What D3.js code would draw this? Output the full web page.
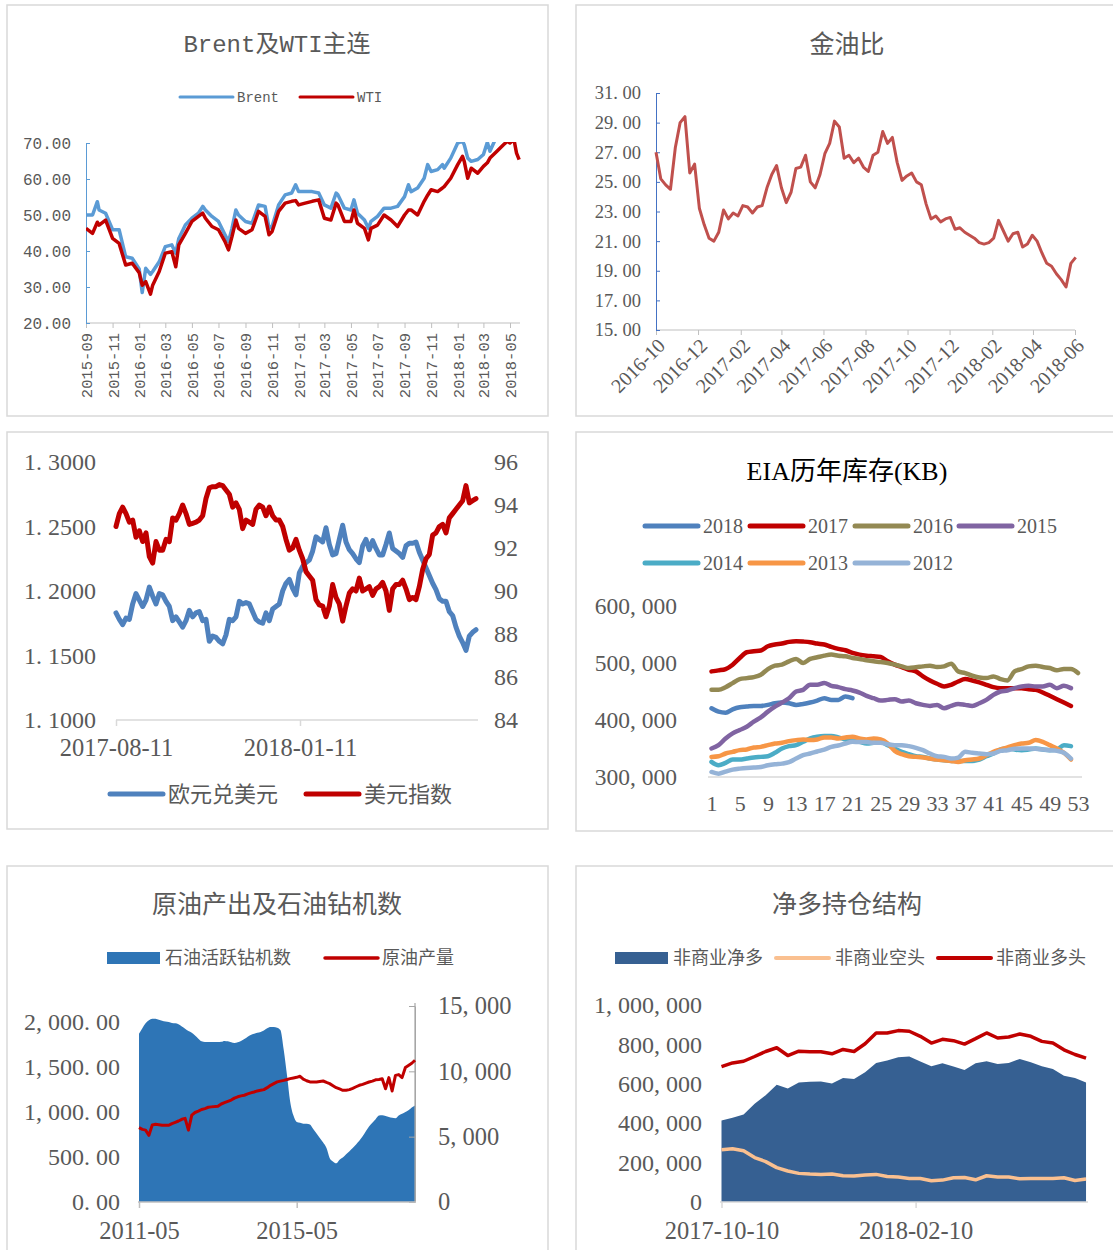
<!DOCTYPE html>
<html><head><meta charset="utf-8">
<script src="https://cdn.jsdelivr.net/npm/d3@7/dist/d3.min.js"></script>
<style>html,body{margin:0;padding:0;background:#fff}svg{display:block}</style>
</head><body>
<svg id="chart" width="1113" height="1250"></svg>
<script>
// ---------------- DATA ----------------
// Panel 1: Brent & WTI
const oilDates = ["2015-09-01","2015-09-16","2015-09-27","2015-10-01","2015-10-16","2015-11-01","2015-11-16","2015-12-01","2015-12-16","2016-01-01",
"2016-01-08","2016-01-16","2016-01-27","2016-02-01","2016-02-16","2016-03-01","2016-03-16","2016-03-25","2016-04-01","2016-04-16",
"2016-05-01","2016-05-16","2016-05-26","2016-06-01","2016-06-16","2016-07-01","2016-07-16","2016-07-24","2016-08-01","2016-08-10",
"2016-08-16","2016-09-01","2016-09-16","2016-10-01","2016-10-16","2016-10-25","2016-11-01","2016-11-16","2016-12-01","2016-12-16",
"2016-12-25","2017-01-01","2017-01-16","2017-02-01","2017-02-16","2017-03-01","2017-03-16","2017-03-28","2017-04-01","2017-04-16",
"2017-05-01","2017-05-08","2017-05-16","2017-06-01","2017-06-10","2017-06-16","2017-07-01","2017-07-16","2017-08-01","2017-08-16",
"2017-09-01","2017-09-10","2017-09-16","2017-10-01","2017-10-16","2017-10-24","2017-11-01","2017-11-16","2017-11-27","2017-12-01",
"2017-12-16","2018-01-01","2018-01-12","2018-01-16","2018-01-24","2018-02-01","2018-02-16","2018-03-01","2018-03-10","2018-03-16",
"2018-04-01","2018-04-16","2018-04-25","2018-05-01","2018-05-10","2018-05-16","2018-05-22"];
const brent = [50.0,50.0,53.7,51.4,50.5,45.9,45.9,38.4,38.0,35.0,
28.5,35.2,33.5,34.3,37.0,41.2,41.7,39.4,43.5,47.2,
49.1,50.5,52.4,51.4,49.6,48.2,44.5,42.6,46.3,51.4,
50.0,48.2,47.7,52.8,52.4,46.3,46.8,52.8,55.6,56.1,
58.4,56.5,56.5,56.5,56.1,52.8,51.9,56.1,55.6,51.9,
51.4,54.2,50.5,48.6,46.3,48.2,49.6,51.9,51.9,52.4,
55.1,58.4,56.5,57.5,60.2,64.0,62.1,62.6,64.0,63.0,
65.8,70.0,70.5,69.5,65.8,64.9,65.4,66.8,70.2,67.7,
72.0,73.0,74.5,75.0,77.0,78.0,76.0];
const wti = [46.3,44.9,48.0,47.2,48.6,43.5,42.1,36.1,36.6,34.0,
30.5,31.5,28.0,30.5,34.3,39.4,39.8,35.6,41.7,44.9,
48.2,49.6,50.5,49.1,46.8,45.9,42.6,40.3,44.0,48.6,
46.3,44.9,45.9,51.0,49.6,44.5,45.4,51.0,53.3,53.8,
54.0,52.8,53.3,53.8,54.2,49.1,48.6,53.3,52.8,48.2,
48.2,51.4,47.7,46.3,43.1,46.3,47.2,50.0,48.6,46.8,
50.0,51.4,51.4,50.0,53.8,55.5,57.0,56.5,57.5,57.9,
60.2,64.0,66.3,64.9,60.2,63.0,61.6,63.5,64.5,65.8,
67.7,69.5,70.5,70.0,71.0,67.2,65.4];
const oilXTicks = ["2015-09","2015-11","2016-01","2016-03","2016-05","2016-07","2016-09","2016-11","2017-01","2017-03","2017-05","2017-07","2017-09","2017-11","2018-01","2018-03","2018-05"];
const oilYTicks = [20,30,40,50,60,70];

// Panel 2: gold/oil ratio (weekly)
const goldOilStart = "2016-10-01";
const goldOilStepDays = 7;
const goldOil = [27.0,25.2,24.8,24.5,27.3,29.0,29.4,25.6,26.2,23.2,
22.1,21.2,21.0,21.6,23.1,22.5,22.9,22.7,23.4,23.3,
22.9,23.3,23.4,24.6,25.5,26.1,24.6,23.6,24.3,25.9,
26.0,26.8,25.0,24.6,25.5,26.9,27.6,29.1,28.7,26.6,
26.8,26.3,26.6,26.0,25.7,26.8,27.0,28.4,27.6,28.0,
26.3,25.1,25.4,25.6,25.0,24.8,23.5,22.5,22.7,22.3,
22.5,22.6,21.8,21.9,21.6,21.4,21.2,20.9,20.8,20.9,
21.2,22.4,21.7,21.0,21.5,21.6,20.6,20.8,21.4,21.0,
20.2,19.5,19.3,18.8,18.4,17.9,19.5,19.9];
const goldOilXTicks = ["2016-10","2016-12","2017-02","2017-04","2017-06","2017-08","2017-10","2017-12","2018-02","2018-04","2018-06"];
const goldOilYTicks = [15,17,19,21,23,25,27,29,31];

// Panel 3: EUR/USD & USD index
const fxStart = "2017-08-11";
const fxStepDays = 2.7716;
const eurusd = [1.183,1.178,1.174,1.179,1.178,1.190,1.198,1.193,1.188,1.193,
1.203,1.196,1.190,1.198,1.197,1.192,1.188,1.177,1.180,1.176,
1.172,1.177,1.185,1.180,1.183,1.184,1.177,1.178,1.161,1.165,
1.164,1.161,1.159,1.166,1.178,1.177,1.180,1.192,1.190,1.191,
1.190,1.184,1.178,1.176,1.175,1.183,1.177,1.186,1.188,1.190,
1.200,1.206,1.209,1.202,1.197,1.214,1.219,1.222,1.224,1.231,
1.242,1.240,1.238,1.249,1.236,1.228,1.229,1.240,1.251,1.238,
1.232,1.229,1.225,1.222,1.235,1.240,1.232,1.239,1.233,1.228,
1.228,1.236,1.245,1.233,1.231,1.229,1.226,1.235,1.237,1.237,
1.238,1.230,1.224,1.218,1.212,1.206,1.201,1.194,1.192,1.192,
1.184,1.181,1.172,1.165,1.160,1.154,1.165,1.168,1.170];
const dxy = [93.0,93.6,93.9,93.6,93.2,93.3,92.5,92.8,92.3,92.7,
91.6,91.3,92.3,91.9,91.9,92.4,92.3,93.4,93.3,93.6,
94.0,93.6,93.1,93.15,93.2,93.3,93.5,94.3,94.8,94.85,
94.85,94.95,94.9,94.7,94.5,93.9,94.1,93.8,92.9,93.3,
93.2,93.1,93.8,94.0,93.9,93.5,93.9,93.5,93.3,93.3,
93.0,92.4,91.9,92.0,92.4,91.9,91.5,90.9,90.7,90.5,
89.6,89.35,89.3,88.8,89.3,90.3,89.7,89.4,88.6,89.3,
89.9,90.1,90.0,90.6,90.0,90.1,90.2,89.8,90.1,90.2,
90.4,90.0,89.1,90.1,90.3,90.3,90.5,90.1,89.6,89.7,
89.6,90.2,91.0,91.5,91.7,92.6,92.7,93.0,93.1,92.7,
93.4,93.6,93.8,94.0,94.2,94.9,94.1,94.2,94.3];
const fxXTicks = ["2017-08-11","2018-01-11"];
const fxLeftTicks = [1.10,1.15,1.20,1.25,1.30];
const fxRightTicks = [84,86,88,90,92,94,96];

// Panel 4: EIA inventories by week (KB)
const eiaNames = ["2018","2017","2016","2015","2014","2013","2012"];
const eia2018 = [420600,414700,412900,418800,422400,423500,424700,424700,426500,429400,430600,429400,426500,428200,430600,434100,438200,435300,435300,441200,438200];
const eia2017 = [485300,487100,489400,497100,508800,518800,520600,521800,529400,532400,534100,537100,538200,537600,536500,534100,532400,528200,524700,522400,517600,514700,512900,511800,510600,502900,497100,492900,488200,485300,476500,469400,463500,458800,461800,467600,471800,469400,465900,461800,457600,455900,455900,455900,455900,454100,452900,448200,442400,436500,430600,424700];
const eia2016 = [452900,452900,457600,464700,471800,473500,475300,479400,489400,495300,497100,502900,507100,500000,507100,510000,512900,514700,512900,511800,508800,507100,504700,502900,501800,500000,497100,494100,491200,492400,494100,495300,492900,494100,498800,485300,482400,477600,474700,473500,476500,471800,469400,485300,489400,494100,495300,492900,491200,487100,489400,489400,482400];
const eia2015 = [350000,355900,367600,376500,382400,388200,397100,404700,414700,423500,430600,438200,450000,452900,461800,461800,464700,460000,457600,454100,451800,448200,442400,438200,434100,435300,436500,432400,434100,429400,426500,424700,426500,420600,424700,428200,426500,424700,429400,435300,444100,450000,451800,455900,458800,460000,458800,458800,461800,455900,460000,455900];
const eia2014 = [326500,320600,324700,330600,330600,332400,334100,335300,336500,342400,350000,354100,355900,361800,367600,370600,371800,371800,369400,365900,363500,361800,358800,360000,361800,355900,350000,344100,340000,336500,335300,332400,330600,329400,328200,328200,328200,328200,330600,336500,341200,348200,350000,348200,347100,348200,350000,348200,347100,348200,355900,354100];
const eia2013 = [335300,336500,341200,344100,347100,348200,351800,352900,355900,358800,360000,362900,364700,365900,364700,365900,369400,369400,367600,369400,370600,367600,365900,367600,365900,358800,345900,340000,336500,335300,334100,332400,330600,329400,328200,326500,329400,330600,332400,338200,344100,348200,351800,355900,358800,360000,364700,361800,355900,350000,342400,330600];
const eia2012 = [308800,305900,309400,312900,314700,315900,316500,317600,320600,322400,323500,325900,332400,338200,341200,344700,348200,352900,355300,358800,361800,361200,361200,360000,360000,357600,355900,355900,354100,351200,347100,341200,336500,335300,332400,334100,344100,342400,341200,340000,341200,345900,347100,349400,350000,350000,349400,348200,347100,345900,342400,332400];
const eiaWeekTicks = [1,5,9,13,17,21,25,29,33,37,41,45,49,53];
const eiaYTicks = [300000,400000,500000,600000];

// Panel 5: rig count (monthly) & crude production
const rigStart = "2011-05-01";
const rigCount = [1870,1930,1985,2020,2037,2035,2025,2015,2005,2000,
1990,1985,1975,1950,1926,1900,1880,1850,1815,1785,
1778,1778,1778,1778,1778,1780,1790,1785,1775,1768,
1775,1790,1810,1835,1855,1870,1880,1890,1905,1930,
1944,1944,1937,1910,1690,1400,1120,960,890,880,
870,870,860,810,760,710,660,600,490,450,
430,470,495,530,565,600,640,680,730,790,
840,880,920,960,963,955,944,935,930,960,
980,1000,1019,1050,1072];
const crudeOutput = [5689,5560,5500,5100,5900,5944,5920,5880,5870,5870,
6000,6100,6200,6330,6400,5500,6650,6850,6950,7080,
7150,7250,7280,7300,7330,7500,7600,7700,7800,7950,
8050,8120,8170,8270,8350,8420,8500,8550,8600,8750,
8930,9060,9190,9250,9310,9380,9440,9490,9540,9620,
9400,9280,9190,9184,9184,9220,9260,9150,9060,8900,
8750,8650,8550,8560,8600,8700,8820,8930,9000,9100,
9184,9250,9350,9380,9430,8670,9520,8500,9690,9750,
9520,10300,10450,10620,10850];
const rigXTicks = ["2011-05","2015-05"];
const rigLeftTicks = [0,500,1000,1500,2000];
const outputRightTicks = [0,5000,10000,15000];

// Panel 6: CFTC positions (weekly)
const cotStart = "2017-10-10";
const cotStepDays = 7;
const netLong = [413700,427400,444400,499100,541900,594900,576100,606800,610300,612000,601700,629100,624000,658100,706000,717900,735000,738500,712800,688900,704300,687200,670100,704300,714500,700900,706000,726500,709400,688900,675200,641000,629100,606800];
const shortPos = [265000,270000,260000,225600,205100,174400,157300,145300,141900,140200,141900,133300,131600,136800,140200,129900,126500,119700,119700,107700,111100,123100,124800,112800,133300,126500,126500,117900,119700,119700,119700,123100,109400,116200];
const longPos = [687200,706000,714500,738500,764100,782900,743600,765800,762400,762400,752100,774400,764100,803400,858100,858100,870100,866700,841000,806800,825600,818800,801700,829100,858100,832500,837600,853000,841000,815400,806800,772600,748700,729900];
const cotXTicks = ["2017-10-10","2018-02-10"];
const cotYTicks = [0,200000,400000,600000,800000,1000000];

// ---------------- DRAWING ----------------
const svg = d3.select("#chart");
const parseDay = d3.timeParse("%Y-%m-%d");
const parseMonth = d3.timeParse("%Y-%m");
const GREY = "#595959";
const MONO = "'Liberation Mono','Noto Sans CJK SC',monospace";
const SERIF = "'Liberation Serif','Noto Sans CJK SC',serif";
const CJK = "'Noto Sans CJK SC','Liberation Serif',sans-serif";

function addText(parent, x, y, s, o) {
  o = o || {};
  return parent.append("text").attr("x", x).attr("y", y).attr("dy", "0.35em")
    .attr("text-anchor", o.anchor || "start")
    .attr("font-family", o.family || CJK)
    .attr("font-size", o.size || 16)
    .attr("fill", o.fill || GREY)
    .text(s);
}
// widen '.' and ',' to mimic half-width CJK punctuation
function widen(sel) {
  sel.each(function() {
    const t = d3.select(this), s = t.text();
    t.text(null);
    s.split(/([.,])/).filter(p => p !== "").forEach(p => {
      const ts = t.append("tspan").text(p);
      if (p === "." || p === ",") ts.style("letter-spacing", "0.25em");
    });
  });
}
function hline(parent, x1, x2, y, color, w) {
  parent.append("line").attr("x1", x1).attr("x2", x2).attr("y1", y).attr("y2", y)
    .attr("stroke", color).attr("stroke-width", w || 1);
}
function legLine(parent, x, y, color, w) {
  parent.append("line").attr("x1", x).attr("x2", x + 53).attr("y1", y).attr("y2", y)
    .attr("stroke", color).attr("stroke-width", w).attr("stroke-linecap", "round");
}

// frames
const defs = svg.append("defs");
[[7,5,541,411],[576,5,545,411],[7,432,541,397],[576,432,545,399],[7,866,541,400],[576,866,545,400]].forEach(f => {
  svg.append("rect").attr("x", f[0]).attr("y", f[1]).attr("width", f[2]).attr("height", f[3])
    .attr("fill", "#fff").attr("stroke", "#d9d9d9").attr("stroke-width", 1.5);
});

// ===== Panel 1 =====
(function() {
  const g = svg.append("g");
  const x = d3.scaleTime().domain([parseMonth("2015-09"), parseMonth("2018-05")]).range([86, 510]);
  const y = d3.scaleLinear().domain([20, 70]).range([323, 143]);
  addText(g, 277, 44, "Brent及WTI主连", {anchor: "middle", family: MONO, size: 24});
  legLine(g, 180, 97, "#5b9bd5", 3);
  addText(g, 237, 97, "Brent", {family: MONO, size: 14});
  legLine(g, 300, 97, "#c00000", 3);
  addText(g, 357, 97, "WTI", {family: MONO, size: 14});

  const xa = g.append("g").attr("transform", "translate(0,323)")
    .call(d3.axisBottom(x).tickValues(oilXTicks.map(parseMonth)).tickFormat(d3.timeFormat("%Y-%m")).tickSize(5).tickSizeOuter(0));
  xa.select(".domain").remove();
  xa.attr("font-family", MONO).attr("font-size", 15.5);
  xa.selectAll("line").attr("stroke", "#bfbfbf");
  xa.selectAll("text").attr("fill", GREY).attr("transform", "rotate(-90)").attr("x", -10).attr("y", 0).attr("dy", "0.35em").attr("text-anchor", "end");
  hline(g, 86, 520, 323, "#bfbfbf", 1);

  const ya = g.append("g").attr("transform", "translate(86,0)")
    .call(d3.axisLeft(y).tickValues(oilYTicks).tickFormat(d3.format(".2f")).tickSizeInner(-4).tickSizeOuter(0).tickPadding(15));
  ya.attr("font-family", MONO).attr("font-size", 16).attr("color", "#5b9bd5");
  ya.selectAll("text").attr("fill", GREY);

  defs.append("clipPath").attr("id", "clip1").append("rect").attr("x", 86).attr("y", 142).attr("width", 440).attr("height", 185);
  const dates = oilDates.map(parseDay);
  const line = d3.line().x((d, i) => x(dates[i])).y(d => y(d)).curve(d3.curveLinear);
  const lg = g.append("g").attr("clip-path", "url(#clip1)");
  lg.append("path").datum(brent).attr("d", line).attr("fill", "none").attr("stroke", "#5b9bd5").attr("stroke-width", 3.5).attr("stroke-linejoin", "round");
  lg.append("path").datum(wti).attr("d", line).attr("fill", "none").attr("stroke", "#c00000").attr("stroke-width", 3.5).attr("stroke-linejoin", "round");
})();

// ===== Panel 2 =====
(function() {
  const g = svg.append("g");
  const x = d3.scaleTime().domain([parseMonth("2016-10"), parseMonth("2018-06")]).range([656, 1075]);
  const y = d3.scaleLinear().domain([15, 31]).range([330, 93]);
  addText(g, 847, 44, "金油比", {anchor: "middle", size: 25});

  const xa = g.append("g").attr("transform", "translate(0,330)")
    .call(d3.axisBottom(x).tickValues(goldOilXTicks.map(parseMonth)).tickFormat(d3.timeFormat("%Y-%m")).tickSize(5).tickSizeOuter(0));
  xa.select(".domain").remove();
  xa.attr("font-family", SERIF).attr("font-size", 20);
  xa.selectAll("line").attr("stroke", "#bfbfbf");
  xa.selectAll("text").attr("fill", GREY).attr("transform", "translate(5,12) rotate(-45)").attr("x", 0).attr("y", 0).attr("dy", "0.35em").attr("text-anchor", "end");
  hline(g, 656, 1075, 330, "#bfbfbf", 1);

  const ya = g.append("g").attr("transform", "translate(656,0)")
    .call(d3.axisLeft(y).tickValues(goldOilYTicks).tickFormat(d3.format(".2f")).tickSizeInner(-4).tickSizeOuter(0).tickPadding(15));
  ya.attr("font-family", SERIF).attr("font-size", 18.5).attr("color", "#4472c4");
  ya.selectAll("text").attr("fill", GREY);
  widen(ya.selectAll("text"));

  const start = parseDay(goldOilStart);
  const dates = goldOil.map((v, i) => d3.timeDay.offset(start, i * goldOilStepDays));
  g.append("path").datum(goldOil)
    .attr("d", d3.line().x((d, i) => x(dates[i])).y(d => y(d)))
    .attr("fill", "none").attr("stroke", "#c0504d").attr("stroke-width", 3).attr("stroke-linejoin", "round");
})();

// ===== Panel 3 =====
(function() {
  const g = svg.append("g");
  const x = d3.scaleTime().domain([parseDay("2017-08-11"), parseDay("2018-01-11")]).range([116, 300]);
  const yL = d3.scaleLinear().domain([1.10, 1.30]).range([720, 462]);
  const yR = d3.scaleLinear().domain([84, 96]).range([720, 462]);

  const la = g.append("g").attr("transform", "translate(116,0)")
    .call(d3.axisLeft(yL).tickValues(fxLeftTicks).tickFormat(d3.format(".4f")).tickSize(0).tickPadding(20));
  la.select(".domain").remove();
  la.attr("font-family", SERIF).attr("font-size", 24);
  la.selectAll("text").attr("fill", GREY);
  widen(la.selectAll("text"));

  const ra = g.append("g").attr("transform", "translate(478,0)")
    .call(d3.axisRight(yR).tickValues(fxRightTicks).tickFormat(d3.format("d")).tickSize(0).tickPadding(16));
  ra.select(".domain").remove();
  ra.attr("font-family", SERIF).attr("font-size", 24);
  ra.selectAll("text").attr("fill", GREY);

  hline(g, 116, 478, 720, "#d9d9d9", 1.5);
  const xa = g.append("g").attr("transform", "translate(0,720)")
    .call(d3.axisBottom(x).tickValues(fxXTicks.map(parseDay)).tickFormat(d3.timeFormat("%Y-%m-%d")).tickSize(6).tickPadding(13).tickSizeOuter(0));
  xa.select(".domain").remove();
  xa.attr("font-family", SERIF).attr("font-size", 24.5);
  xa.selectAll("line").attr("stroke", "#d9d9d9").attr("stroke-width", 1.5);
  xa.selectAll("text").attr("fill", GREY);

  const start = parseDay(fxStart);
  const dates = eurusd.map((v, i) => new Date(start.getTime() + i * fxStepDays * 864e5));
  g.append("path").datum(eurusd)
    .attr("d", d3.line().x((d, i) => x(dates[i])).y(d => yL(d)))
    .attr("fill", "none").attr("stroke", "#4f81bd").attr("stroke-width", 5).attr("stroke-linejoin", "round").attr("stroke-linecap", "round");
  g.append("path").datum(dxy)
    .attr("d", d3.line().x((d, i) => x(dates[i])).y(d => yR(d)))
    .attr("fill", "none").attr("stroke", "#c00000").attr("stroke-width", 5).attr("stroke-linejoin", "round").attr("stroke-linecap", "round");

  legLine(g, 110, 794, "#4f81bd", 5);
  addText(g, 168, 794, "欧元兑美元", {size: 22});
  legLine(g, 306, 794, "#c00000", 5);
  addText(g, 364, 794, "美元指数", {size: 22});
})();

// ===== Panel 4 =====
(function() {
  const g = svg.append("g");
  const x = d3.scaleLinear().domain([1, 53]).range([711.5, 1078]);
  const y = d3.scaleLinear().domain([300000, 600000]).range([777, 606]);
  addText(g, 847, 471, "EIA历年库存(KB)", {anchor: "middle", family: SERIF, size: 26, fill: "#000"});

  const colors = ["#4f81bd", "#c00000", "#938953", "#8064a2", "#4bacc6", "#f79646", "#95b3d7"];
  const series = [eia2018, eia2017, eia2016, eia2015, eia2014, eia2013, eia2012];
  const legPos = [[645,526],[750,526],[855,526],[959,526],[645,563],[750,563],[855,563]];
  eiaNames.forEach((n, i) => {
    legLine(g, legPos[i][0], legPos[i][1], colors[i], 5);
    addText(g, legPos[i][0] + 58, legPos[i][1], n, {family: SERIF, size: 20});
  });

  const ya = g.append("g").attr("transform", "translate(708,0)")
    .call(d3.axisLeft(y).tickValues(eiaYTicks).tickFormat(d3.format(",")).tickSize(0).tickPadding(31));
  ya.select(".domain").remove();
  ya.attr("font-family", SERIF).attr("font-size", 23.5);
  ya.selectAll("text").attr("fill", GREY);
  widen(ya.selectAll("text"));

  hline(g, 708, 1082, 777, "#d9d9d9", 1.5);
  const xa = g.append("g").attr("transform", "translate(0,777)")
    .call(d3.axisBottom(x).tickValues(eiaWeekTicks).tickFormat(d3.format("d")).tickSize(0).tickPadding(18));
  xa.select(".domain").remove();
  xa.attr("font-family", SERIF).attr("font-size", 22);
  xa.selectAll("text").attr("fill", GREY);

  const line = d3.line().x((d, i) => x(i + 1)).y(d => y(d)).curve(d3.curveMonotoneX);
  series.forEach((s, i) => {
    g.append("path").datum(s).attr("d", line).attr("fill", "none").attr("stroke", colors[i])
      .attr("stroke-width", 4.5).attr("stroke-linejoin", "round").attr("stroke-linecap", "round");
  });
})();

// ===== Panel 5 =====
(function() {
  const g = svg.append("g");
  const x = d3.scaleTime().domain([parseMonth("2011-05"), parseMonth("2015-05")]).range([139, 296.7]);
  const yL = d3.scaleLinear().domain([0, 2000]).range([1202, 1022]);
  const yR = d3.scaleLinear().domain([0, 15000]).range([1202, 1006]);
  addText(g, 277, 904, "原油产出及石油钻机数", {anchor: "middle", size: 25});

  g.append("rect").attr("x", 107).attr("y", 952).attr("width", 53).attr("height", 12).attr("fill", "#2e75b6");
  addText(g, 165, 958, "石油活跃钻机数", {size: 18});
  legLine(g, 325, 958, "#c00000", 3.5);
  addText(g, 382, 958, "原油产量", {size: 18});

  const start = parseDay(rigStart);
  const dates = rigCount.map((v, i) => d3.timeMonth.offset(start, i));
  g.append("path").datum(rigCount)
    .attr("d", d3.area().x((d, i) => x(dates[i])).y0(yL(0)).y1(d => yL(d)).curve(d3.curveMonotoneX))
    .attr("fill", "#2e75b6");

  const la = g.append("g").attr("transform", "translate(138,0)")
    .call(d3.axisLeft(yL).tickValues(rigLeftTicks).tickFormat(d3.format(",.2f")).tickSize(0).tickPadding(18));
  la.select(".domain").remove();
  la.attr("font-family", SERIF).attr("font-size", 24);
  la.selectAll("text").attr("fill", GREY);
  widen(la.selectAll("text"));

  const ra = g.append("g").attr("transform", "translate(415,0)")
    .call(d3.axisRight(yR).tickValues(outputRightTicks).tickFormat(d3.format(",")).tickSizeInner(-6).tickSizeOuter(0).tickPadding(23));
  ra.attr("font-family", SERIF).attr("font-size", 24.5).attr("color", "#a6a6a6");
  ra.selectAll("text").attr("fill", GREY);
  widen(ra.selectAll("text"));
  g.append("line").attr("x1", 415).attr("x2", 415).attr("y1", 1003).attr("y2", 1202).attr("stroke", "#a6a6a6").attr("stroke-width", 1.2);

  hline(g, 138, 416, 1202, "#bfbfbf", 1.5);
  const xa = g.append("g").attr("transform", "translate(0,1202)")
    .call(d3.axisBottom(x).tickValues(rigXTicks.map(parseMonth)).tickFormat(d3.timeFormat("%Y-%m")).tickSize(6).tickPadding(14).tickSizeOuter(0));
  xa.select(".domain").remove();
  xa.attr("font-family", SERIF).attr("font-size", 24.5);
  xa.selectAll("line").attr("stroke", "#bfbfbf").attr("stroke-width", 1.5);
  xa.selectAll("text").attr("fill", GREY);

  g.append("path").datum(crudeOutput)
    .attr("d", d3.line().x((d, i) => x(dates[i])).y(d => yR(d)))
    .attr("fill", "none").attr("stroke", "#c00000").attr("stroke-width", 3).attr("stroke-linejoin", "round");
})();

// ===== Panel 6 =====
(function() {
  const g = svg.append("g");
  const x = d3.scaleTime().domain([parseDay("2017-10-10"), parseDay("2018-02-10")]).range([721.5, 915.6]);
  const y = d3.scaleLinear().domain([0, 1000000]).range([1202, 1005]);
  addText(g, 847, 904, "净多持仓结构", {anchor: "middle", size: 25});

  g.append("rect").attr("x", 615).attr("y", 952).attr("width", 53).attr("height", 12).attr("fill", "#366092");
  addText(g, 673, 958, "非商业净多", {size: 18});
  legLine(g, 776, 958, "#fac090", 4);
  addText(g, 835, 958, "非商业空头", {size: 18});
  legLine(g, 938, 958, "#c00000", 4);
  addText(g, 996, 958, "非商业多头", {size: 18});

  const start = parseDay(cotStart);
  const dates = netLong.map((v, i) => d3.timeDay.offset(start, i * cotStepDays));
  g.append("path").datum(netLong)
    .attr("d", d3.area().x((d, i) => x(dates[i])).y0(y(0)).y1(d => y(d)))
    .attr("fill", "#366092");

  const ya = g.append("g").attr("transform", "translate(720,0)")
    .call(d3.axisLeft(y).tickValues(cotYTicks).tickFormat(d3.format(",")).tickSize(0).tickPadding(18));
  ya.select(".domain").remove();
  ya.attr("font-family", SERIF).attr("font-size", 24);
  ya.selectAll("text").attr("fill", GREY);
  widen(ya.selectAll("text"));

  hline(g, 720, 1088, 1202, "#d9d9d9", 1.5);
  const xa = g.append("g").attr("transform", "translate(0,1202)")
    .call(d3.axisBottom(x).tickValues(cotXTicks.map(parseDay)).tickFormat(d3.timeFormat("%Y-%m-%d")).tickSize(6).tickPadding(14).tickSizeOuter(0));
  xa.select(".domain").remove();
  xa.attr("font-family", SERIF).attr("font-size", 24.5);
  xa.selectAll("line").attr("stroke", "#d9d9d9").attr("stroke-width", 1.5);
  xa.selectAll("text").attr("fill", GREY);

  const line = d3.line().x((d, i) => x(dates[i])).y(d => y(d));
  g.append("path").datum(shortPos).attr("d", line).attr("fill", "none").attr("stroke", "#fac090").attr("stroke-width", 3.5).attr("stroke-linejoin", "round");
  g.append("path").datum(longPos).attr("d", line).attr("fill", "none").attr("stroke", "#c00000").attr("stroke-width", 3.5).attr("stroke-linejoin", "round");
})();
</script>
</body></html>
